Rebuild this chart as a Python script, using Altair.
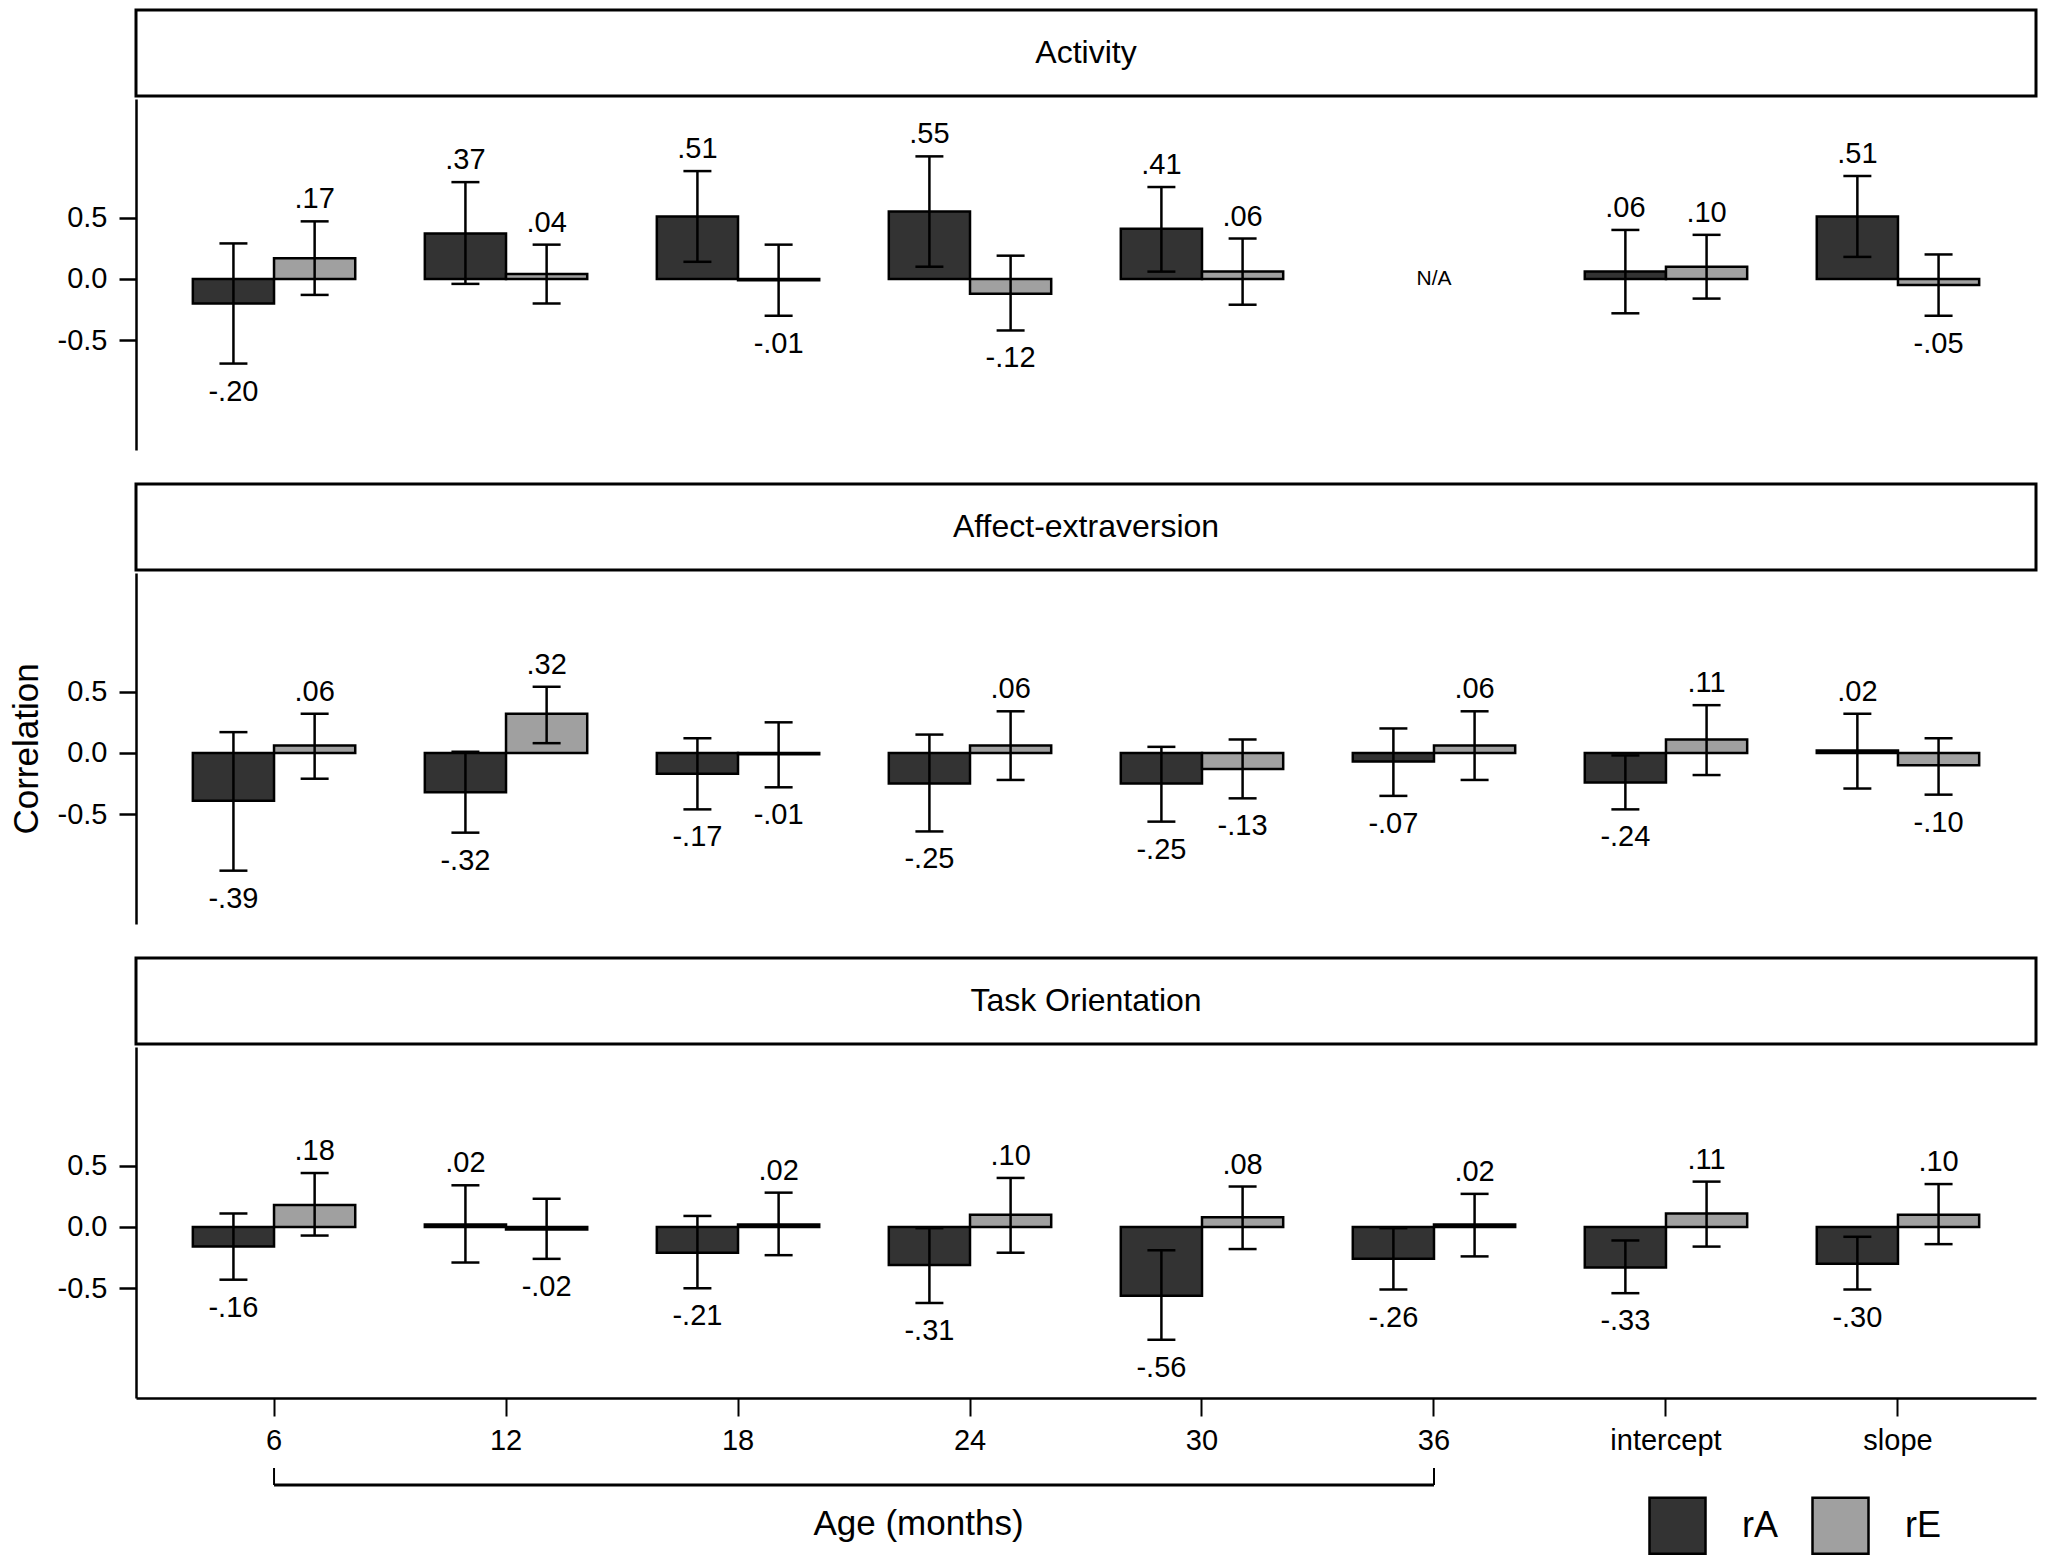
import altair as alt
import pandas as pd

cats = ["6", "12", "18", "24", "30", "36", "intercept", "slope"]
traits = ["Activity", "Affect-extraversion", "Task Orientation"]
types = ["rA", "rE"]

# Activity
act_rA = [-0.20, 0.37, 0.51, 0.55, 0.41, None, 0.06, 0.51]
act_rA_lo = [-0.69, -0.04, 0.14, 0.10, 0.06, None, -0.28, 0.18]
act_rA_hi = [0.29, 0.79, 0.88, 1.00, 0.75, None, 0.40, 0.84]
act_rE = [0.17, 0.04, -0.01, -0.12, 0.06, None, 0.10, -0.05]
act_rE_lo = [-0.13, -0.20, -0.30, -0.42, -0.21, None, -0.16, -0.30]
act_rE_hi = [0.47, 0.28, 0.28, 0.19, 0.33, None, 0.36, 0.20]

# Affect-extraversion
aff_rA = [-0.39, -0.32, -0.17, -0.25, -0.25, -0.07, -0.24, 0.02]
aff_rA_lo = [-0.96, -0.65, -0.46, -0.64, -0.56, -0.35, -0.46, -0.29]
aff_rA_hi = [0.17, 0.01, 0.12, 0.15, 0.05, 0.20, -0.02, 0.32]
aff_rE = [0.06, 0.32, -0.01, 0.06, -0.13, 0.06, 0.11, -0.10]
aff_rE_lo = [-0.21, 0.08, -0.28, -0.22, -0.37, -0.22, -0.18, -0.34]
aff_rE_hi = [0.32, 0.54, 0.25, 0.34, 0.11, 0.34, 0.39, 0.12]

# Task Orientation
task_rA = [-0.16, 0.02, -0.21, -0.31, -0.56, -0.26, -0.33, -0.30]
task_rA_lo = [-0.43, -0.29, -0.50, -0.62, -0.92, -0.51, -0.54, -0.51]
task_rA_hi = [0.11, 0.34, 0.09, -0.01, -0.19, -0.01, -0.11, -0.08]
task_rE = [0.18, -0.02, 0.02, 0.10, 0.08, 0.02, 0.11, 0.10]
task_rE_lo = [-0.07, -0.26, -0.23, -0.21, -0.18, -0.24, -0.16, -0.14]
task_rE_hi = [0.44, 0.23, 0.28, 0.40, 0.33, 0.27, 0.37, 0.35]

na_cells = [{"trait": "Activity", "cat": "36", "label": "N/A"}]
bracket_cats = ["6", "36"]

series = {
    ("Activity", "rA"): (act_rA, act_rA_lo, act_rA_hi),
    ("Activity", "rE"): (act_rE, act_rE_lo, act_rE_hi),
    ("Affect-extraversion", "rA"): (aff_rA, aff_rA_lo, aff_rA_hi),
    ("Affect-extraversion", "rE"): (aff_rE, aff_rE_lo, aff_rE_hi),
    ("Task Orientation", "rA"): (task_rA, task_rA_lo, task_rA_hi),
    ("Task Orientation", "rE"): (task_rE, task_rE_lo, task_rE_hi),
}

rows = []
for (trait, typ), (vals, los, his) in series.items():
    for c, v, lo, hi in zip(cats, vals, los, his):
        if v is None:
            continue
        rows.append(dict(trait=trait, cat=c, type=typ, r=v, lo=lo, hi=hi))
df = pd.DataFrame(rows)
na_df = pd.DataFrame(na_cells)
br_df = pd.DataFrame({"cat": bracket_cats})

W = 1900
HP = 351
HS = 86

xscale = alt.Scale(domain=cats, paddingInner=0.3, paddingOuter=0.245)
xoscale = alt.Scale(domain=types, paddingInner=0, paddingOuter=0)
yscale = alt.Scale(domain=[-1.395, 1.468], nice=False)
cscale = alt.Scale(domain=types, range=["#333333", "#a0a0a0"])

legend = alt.Legend(
    orient="none", legendX=1512, legendY=1486, direction="horizontal",
    title=None, symbolType="square", symbolSize=3136,
    symbolStrokeColor="black", symbolStrokeWidth=2.5, symbolOpacity=1,
    labelFontSize=36, labelOffset=35, columnPadding=29, labelColor="black",
)

MINUS_FIX = "replace(datum.label, '\u2212', '-')"


def panel(trait, bottom, ytitle):
    d = df[df.trait == trait]
    if bottom:
        xaxis = alt.Axis(
            title="Age (months)", labelAngle=0, labelFontSize=29, tickSize=18,
            labelPadding=10, domainWidth=2.5, tickWidth=2, domainColor="black",
            tickColor="black", labelColor="black", titleFontSize=35,
            titleFontWeight="normal", titleColor="black", titleX=782, titleY=125,
            titleAlign="center", titleBaseline="middle",
        )
    else:
        xaxis = None
    X = alt.X("cat:N", scale=xscale, axis=xaxis, sort=cats)
    XO = alt.XOffset("type:N", scale=xoscale)
    yaxis = alt.Axis(
        values=[-0.5, 0.0, 0.5], format=".1f", labelExpr=MINUS_FIX,
        labelFontSize=29, tickSize=17,
        labelPadding=12, domainWidth=2.5, tickWidth=2.5, domainColor="black",
        tickColor="black", labelColor="black", grid=False,
        title="Correlation" if ytitle else None, titleFontSize=35,
        titleFontWeight="normal", titleColor="black", titlePadding=13,
    )
    base = alt.Chart(d)
    bars = base.mark_bar(stroke="black", strokeWidth=2.5, opacity=1).encode(
        x=X, xOffset=XO,
        y=alt.Y("r:Q", scale=yscale, axis=yaxis),
        color=alt.Color("type:N", scale=cscale, legend=legend),
    )
    rules = base.mark_rule(strokeWidth=2.5, color="black").encode(
        x=X, xOffset=XO, y=alt.Y("lo:Q", scale=yscale), y2="hi:Q"
    )
    cap_lo = base.mark_tick(size=28, thickness=2.5, color="black", opacity=1).encode(
        x=X, xOffset=XO, y=alt.Y("lo:Q", scale=yscale)
    )
    cap_hi = base.mark_tick(size=28, thickness=2.5, color="black", opacity=1).encode(
        x=X, xOffset=XO, y=alt.Y("hi:Q", scale=yscale)
    )
    lab = "replace(replace(format(datum.r, '.2f'), '\u2212', '-'), '0.', '.')"
    pos = base.transform_filter("datum.r >= 0").transform_calculate(lab=lab).mark_text(
        baseline="alphabetic", dy=-13, fontSize=29, color="black"
    ).encode(x=X, xOffset=XO, y=alt.Y("hi:Q", scale=yscale), text="lab:N")
    neg = base.transform_filter("datum.r < 0").transform_calculate(lab=lab).mark_text(
        baseline="top", dy=14, fontSize=29, color="black"
    ).encode(x=X, xOffset=XO, y=alt.Y("lo:Q", scale=yscale), text="lab:N")
    layers = [bars, rules, cap_lo, cap_hi, pos, neg]
    nd = na_df[na_df.trait == trait]
    if len(nd):
        layers.append(
            alt.Chart(nd).mark_text(fontSize=21, color="black", baseline="middle").encode(
                x=X, y=alt.datum(0, scale=yscale), text="label:N"
            )
        )
    if bottom:
        layers.append(
            alt.Chart(br_df).mark_line(color="black", strokeWidth=3).encode(
                x=X, y=alt.value(HP + 87)
            )
        )
        layers.append(
            alt.Chart(br_df).mark_rule(color="black", strokeWidth=2).encode(
                x=X, y=alt.value(HP + 70), y2=alt.value(HP + 87)
            )
        )
    return alt.layer(*layers).properties(width=W, height=HP)


def strip(trait):
    return alt.Chart(pd.DataFrame({"trait": [trait]})).mark_text(
        fontSize=32, color="black"
    ).encode(text="trait:N").properties(
        width=W, height=HS, view=alt.ViewBackground(stroke="black", strokeWidth=3)
    )


blocks = []
for i, t in enumerate(traits):
    blocks.append(
        alt.vconcat(strip(t), panel(t, bottom=(i == 2), ytitle=(i == 1)), spacing=0)
    )

chart = alt.vconcat(*blocks, spacing=31).properties(padding=0).configure(
    font="Liberation Sans"
).configure_view(stroke="transparent")

chart.save("out.html", embed_options={"renderer": "svg", "actions": False})
